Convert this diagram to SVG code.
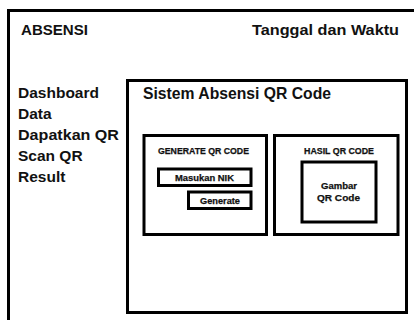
<svg xmlns="http://www.w3.org/2000/svg" width="414" height="320" viewBox="0 0 414 320">
  <style>
    .frame { fill: none; stroke: #000; stroke-width: 3; }
    .box { fill: #fff; stroke: #000; stroke-width: 3; }
    text { font-family: "Liberation Sans", Arial, sans-serif; font-weight: bold; fill: #111; }
    .title { font-size: 15px; }
    .menu { font-size: 15.5px; }
    .head { font-size: 16.5px; }
    .small { font-size: 8.7px; text-anchor: middle; stroke: #111; stroke-width: 0.25; }
    .label { font-size: 9.6px; text-anchor: middle; stroke: #111; stroke-width: 0.25; }
  </style>
  <rect width="414" height="320" fill="#fff"/>

  <!-- page frame, open to the right and bottom -->
  <g id="page">
    <path class="frame" d="M8.5,322 V10.5 H416"/>
    <text class="title" x="21" y="35" textLength="67" lengthAdjust="spacingAndGlyphs">ABSENSI</text>
    <text class="title" x="252" y="35" textLength="147" lengthAdjust="spacingAndGlyphs">Tanggal dan Waktu</text>
  </g>

  <!-- side menu -->
  <g id="menu">
    <text class="menu" x="18" y="98" textLength="81" lengthAdjust="spacingAndGlyphs">Dashboard</text>
    <text class="menu" x="18" y="119">Data</text>
    <text class="menu" x="18" y="140" textLength="101" lengthAdjust="spacingAndGlyphs">Dapatkan QR</text>
    <text class="menu" x="18" y="161">Scan QR</text>
    <text class="menu" x="18" y="182">Result</text>
  </g>

  <!-- main content panel -->
  <g id="main-panel">
    <rect class="box" x="127.5" y="80.5" width="279" height="232"/>
    <text class="head" x="143" y="99" textLength="188" lengthAdjust="spacingAndGlyphs">Sistem Absensi QR Code</text>
  </g>

  <g id="generate-panel">
    <rect class="box" x="144" y="135.5" width="122.5" height="99"/>
    <text class="small" x="203.5" y="153.5" textLength="91" lengthAdjust="spacingAndGlyphs">GENERATE QR CODE</text>
  </g>

  <g id="input-nik">
    <rect class="box" x="158.5" y="169" width="92.5" height="16.5"/>
    <text class="small" x="204.5" y="180.5" textLength="59" lengthAdjust="spacingAndGlyphs">Masukan NIK</text>
  </g>

  <g id="btn-generate">
    <rect class="box" x="188.5" y="192" width="62.5" height="16.5"/>
    <text class="small" x="220" y="203.5" textLength="40" lengthAdjust="spacingAndGlyphs">Generate</text>
  </g>

  <g id="result-panel">
    <rect class="box" x="274.5" y="135.5" width="123.5" height="99"/>
    <text class="small" x="339" y="153.5" textLength="70" lengthAdjust="spacingAndGlyphs">HASIL QR CODE</text>
  </g>

  <g id="qr-image">
    <rect class="box" x="302" y="162" width="74" height="60"/>
    <text class="label" x="339" y="188.5" textLength="36" lengthAdjust="spacingAndGlyphs">Gambar</text>
    <text class="label" x="338.5" y="200.5" textLength="43" lengthAdjust="spacingAndGlyphs">QR Code</text>
  </g>
</svg>
